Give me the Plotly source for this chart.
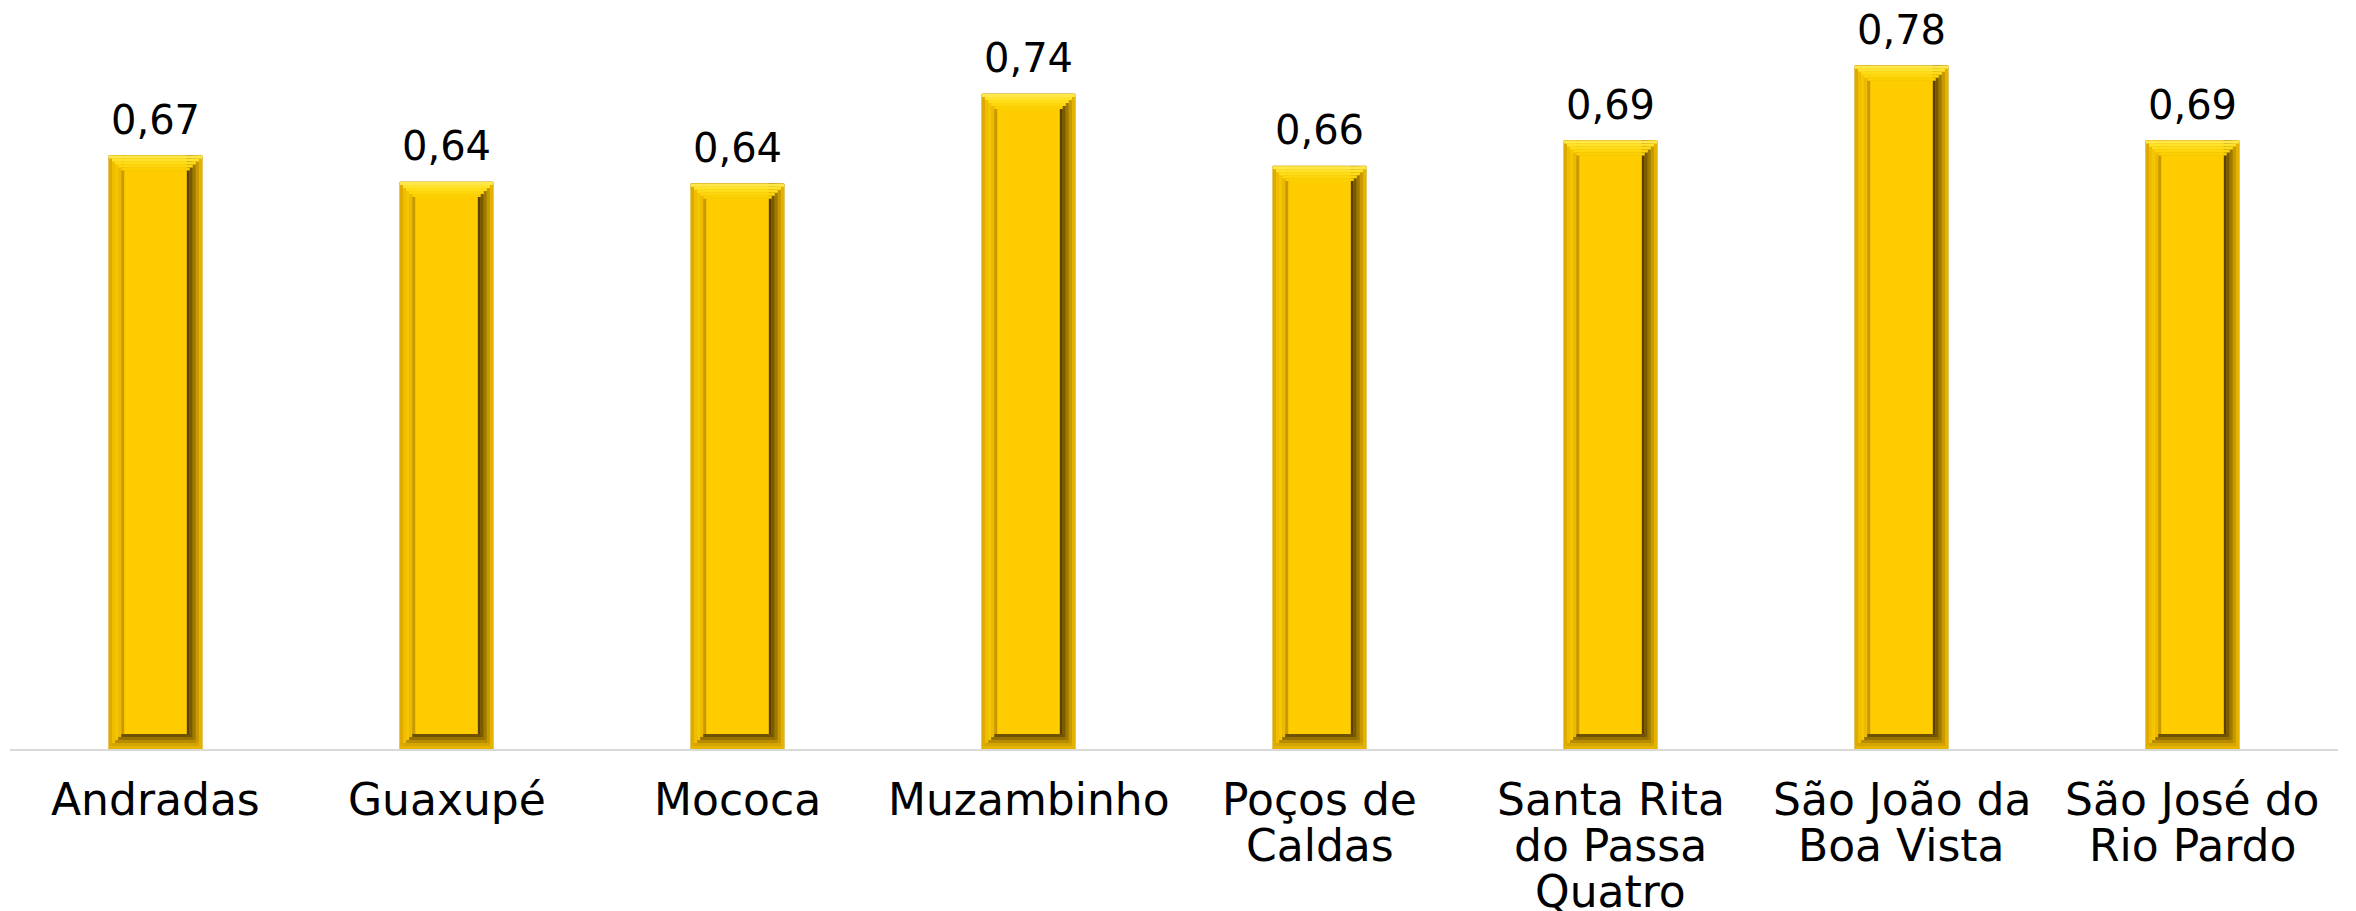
import plotly.graph_objects as go

categories = ["Andradas", "Guaxupé", "Mococa", "Muzambinho", "Poços de Caldas",
              "Santa Rita do Passa Quatro", "São João da Boa Vista", "São José do Rio Pardo"]
label_lines = [["Andradas"], ["Guaxupé"], ["Mococa"], ["Muzambinho"], ["Poços de", "Caldas"],
               ["Santa Rita", "do Passa", "Quatro"], ["São João da", "Boa Vista"], ["São José do", "Rio Pardo"]]
values = [0.674, 0.644, 0.642, 0.744, 0.662, 0.691, 0.776, 0.691]

W = 0.32      # bar width (category units)
B = 0.053     # side bevel width
VB = 0.017    # top/bottom bevel height
FONT = "DejaVu Sans"

fig = go.Figure()

def add_bar(y, base, width, offset, color):
    fig.add_trace(go.Bar(x=categories, y=y, base=base, width=width, offset=offset,
                         marker=dict(color=color, line=dict(width=0)),
                         hoverinfo="skip", showlegend=False))

n = len(values)
# outer body
fig.add_trace(go.Bar(x=categories, y=values, width=W, offset=-W / 2,
                     marker=dict(color="#E8B600", line=dict(width=1, color="#D0A000")),
                     hoverinfo="skip", showlegend=False))
# left bevel (outer -> inner)
left_cols = ["#DEAA00", "#F0BE00", "#F6C600", "#EDBA00", "#C99A00"]
for k, c in enumerate(left_cols):
    add_bar(values, [0] * n, B / len(left_cols), -W / 2 + k * B / len(left_cols), c)
# right bevel (inner -> outer)
right_cols = ["#583F00", "#7A5A00", "#A07A00", "#C89A00", "#E4B200"]
for k, c in enumerate(right_cols):
    add_bar(values, [0] * n, B / len(right_cols), W / 2 - B + k * B / len(right_cols), c)
# top bevel (mitred stairs, top -> inner)
top_cols = ["#FFE84A", "#FFE22A", "#FFDC18", "#FFD60C", "#FAD000"]
steps = len(top_cols)
for k, c in enumerate(top_cols):
    wk = W - 2 * k * B / steps
    add_bar([VB / steps] * n, [v - (k + 1) * VB / steps for v in values], wk, -wk / 2, c)
# bottom bevel (bottom -> inner)
bot_cols = ["#E6B400", "#D4A400", "#B88C00", "#967000", "#6E5200"]
for k, c in enumerate(bot_cols):
    wk = W - 2 * k * B / steps
    add_bar([VB / steps] * n, [k * VB / steps] * n, wk, -wk / 2, c)
# inner face
add_bar([v - 2 * VB for v in values], [VB] * n, W - 2 * B, -(W - 2 * B) / 2, "#FFCC00")

annotations = []
for cat, v in zip(categories, values):
    annotations.append(dict(x=cat, y=v, xref="x", yref="y", text=f"{v:.2f}".replace(".", ","),
                            showarrow=False, yanchor="middle", yshift=36,
                            font=dict(family=FONT, size=40, color="#000000")))
for cat, lines in zip(categories, label_lines):
    for i, line in enumerate(lines):
        annotations.append(dict(x=cat, y=0, xref="x", yref="paper", text=line,
                                showarrow=False, yanchor="middle", yshift=-(50 + 46 * i),
                                font=dict(family=FONT, size=44, color="#000000")))

fig.update_layout(
    width=2348, height=903,
    margin=dict(l=2, r=18, t=12, b=162),
    barmode="overlay",
    plot_bgcolor="#FFFFFF", paper_bgcolor="#FFFFFF",
    annotations=annotations,
    xaxis=dict(showline=True, linecolor="#D9D9D9", linewidth=2, showticklabels=False,
               ticks="", showgrid=False, zeroline=False, range=[-0.5, 7.5]),
    yaxis=dict(visible=False, range=[0, 0.828], showgrid=False, zeroline=False),
)

fig.write_html("out.html")
